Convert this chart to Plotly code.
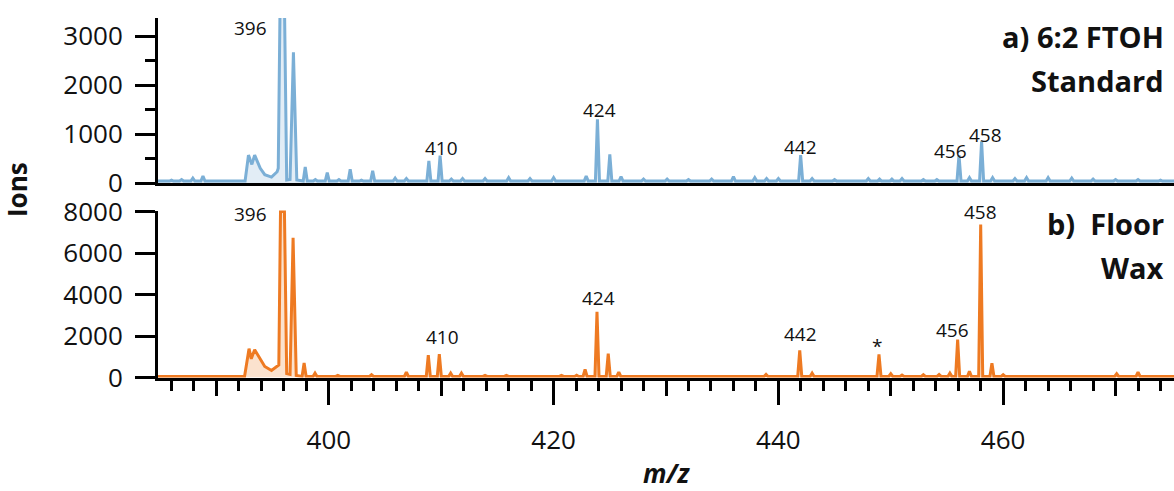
import plotly.graph_objects as go

# ---------------- data ----------------
MZ_RANGE = [384.8, 475.2]

# a) 6:2 FTOH Standard (blue)
std_baseline = 40
std_cluster_mz = [392.55, 392.85, 393.15, 393.4, 393.9, 394.3, 394.9, 395.4, 395.5,
                  395.75, 395.95, 396.25, 396.55, 396.85, 397.15]
std_cluster_ions = [40, 570, 380, 570, 300, 170, 120, 230, 300,
                    5500, 5500, 60, 70, 2670, 60]
std_peak_mz = [386.0, 386.9, 387.9, 388.8, 397.9, 398.8, 399.86, 400.9, 401.9, 402.9,
               403.9, 405.9, 406.9, 408.9, 409.9, 410.9, 411.9, 413.9, 416.0, 417.9,
               420.0, 422.9, 423.9, 425.0, 426.0, 428.0, 430.1, 432.0, 434.06, 436.0,
               437.9, 438.95, 440.0, 441.98, 443.0, 445.0, 448.0, 449.0, 450.1, 451.0,
               452.9, 454.1, 456.07, 457.0, 458.08, 459.06, 461.05, 462.08, 464.0, 466.1,
               468.0, 470.0, 472.0, 474.0]
std_peak_ions = [60, 70, 100, 140, 330, 70, 210, 70, 280, 60,
                 250, 100, 90, 450, 560, 80, 90, 90, 110, 90,
                 110, 140, 1300, 585, 130, 80, 80, 70, 80, 130,
                 110, 90, 90, 570, 90, 70, 90, 80, 80, 90,
                 70, 70, 570, 110, 850, 110, 90, 110, 110, 100,
                 80, 70, 70, 60]

# b) Floor Wax (orange)
wax_baseline = 50
wax_cluster_mz = [392.5, 392.9, 393.1, 393.4, 393.87, 394.3, 394.9, 395.4, 395.55,
                  395.7, 396.05, 396.25, 396.55, 396.82, 397.1]
wax_cluster_ions = [50, 1390, 900, 1340, 900, 530, 340, 530, 600,
                    8000, 8000, 190, 150, 6730, 100]
wax_peak_mz = [397.8, 398.77, 400.8, 403.8, 406.9, 408.85, 409.83, 410.84, 411.8, 413.9,
               415.8, 420.7, 422.05, 422.8, 423.86, 424.86, 425.8, 438.9, 441.9, 443.0,
               448.95, 450.0, 451.0, 452.9, 454.3, 455.26, 455.95, 457.0, 458.0, 459.0,
               460.0, 470.1, 472.0]
wax_peak_ions = [700, 210, 100, 130, 260, 1080, 1130, 210, 210, 100,
                 100, 100, 110, 390, 3170, 1150, 260, 150, 1310, 210,
                 1120, 180, 120, 130, 140, 210, 1830, 300, 7380, 690,
                 130, 180, 260]

# peak labels
std_label_text = ["396", "410", "424", "442", "456", "458"]
std_label_mz = [393.0, 410.0, 424.1, 442.0, 455.3, 458.4]
std_label_ions = [3160, 710, 1490, 735, 650, 980]
wax_label_text = ["396", "410", "424", "442", "*", "456", "458"]
wax_label_mz = [393.07, 410.07, 423.95, 442.0, 448.8, 455.5, 458.0]
wax_label_ions = [7860, 1940, 3830, 2090, 1500, 2280, 7960]

x_major_ticks = [400, 420, 440, 460]
x_mid_ticks = [390, 410, 430, 450, 470]


def profile(base, cl_mz, cl_ions, pk_mz, pk_ions, half=0.18):
    pts = [(MZ_RANGE[0], base), (MZ_RANGE[1], base)]
    pts += list(zip(cl_mz, cl_ions))
    for m, h in zip(pk_mz, pk_ions):
        pts += [(m - half, base), (m, h), (m + half, base)]
    pts.sort()
    return [p[0] for p in pts], [p[1] for p in pts]


BLUE = "#7BAFD6"
ORANGE = "#EE7A22"
FONT = "Open Sans"

sx, sy = profile(std_baseline, std_cluster_mz, std_cluster_ions, std_peak_mz, std_peak_ions)
wx, wy = profile(wax_baseline, wax_cluster_mz, wax_cluster_ions, wax_peak_mz, wax_peak_ions)

fig = go.Figure()
fig.add_trace(go.Scatter(x=sx, y=sy, mode="lines", line=dict(color=BLUE, width=3),
                         fill="tozeroy", fillcolor="rgba(123,175,214,0.22)",
                         xaxis="x", yaxis="y", showlegend=False))
fig.add_trace(go.Scatter(x=wx, y=wy, mode="lines", line=dict(color=ORANGE, width=3),
                         fill="tozeroy", fillcolor="rgba(238,122,34,0.22)",
                         xaxis="x2", yaxis="y2", showlegend=False))
fig.add_trace(go.Scatter(x=[None], y=[None], xaxis="x3", yaxis="y2",
                         showlegend=False, hoverinfo="skip"))

W, H = 1174, 491
L = 158
top_dom = [1 - 183 / H, 1 - 18 / H]
bot_dom = [1 - 377.5 / H, 1 - 210.5 / H]

tickfont = dict(family=FONT, size=26, color="#111")

fig.update_layout(
    width=W, height=H,
    margin=dict(l=L, r=0, t=0, b=0, autoexpand=False),
    paper_bgcolor="white", plot_bgcolor="white",
    font=dict(family=FONT, color="#111"),
    xaxis=dict(domain=[0, 1], anchor="y", range=MZ_RANGE, showline=True, linecolor="black",
               linewidth=3, ticks="", showticklabels=False, showgrid=False, zeroline=False,
               automargin=False),
    yaxis=dict(domain=top_dom, anchor="x", range=[0, 3370], tickvals=[0, 1000, 2000, 3000],
               ticks="outside", ticklen=20, tickwidth=3, tickcolor="black",
               minor=dict(tickvals=[500, 1500, 2500], ticks="outside", ticklen=10, tickwidth=3, tickcolor="black"),
               showline=True, linecolor="black", linewidth=3, showgrid=False, zeroline=False,
               tickfont=tickfont, ticklabelstandoff=7, automargin=False),
    xaxis2=dict(domain=[0, 1], anchor="y2", range=MZ_RANGE, showline=True, linecolor="black",
                linewidth=3, tickvals=x_major_ticks, ticks="outside", ticklen=24, tickwidth=3,
                tickcolor="black",
                minor=dict(dtick=2, tick0=0, ticks="outside", ticklen=10, tickwidth=3, tickcolor="black"),
                showgrid=False, zeroline=False, tickfont=tickfont, ticklabelstandoff=13,
                automargin=False),
    xaxis3=dict(overlaying="x2", anchor="y2", range=MZ_RANGE, tickvals=x_mid_ticks,
                ticks="outside", ticklen=17, tickwidth=3, tickcolor="black",
                showticklabels=False, showline=False, showgrid=False, zeroline=False,
                automargin=False),
    yaxis2=dict(domain=bot_dom, anchor="x2", range=[0, 8050], tickvals=[0, 2000, 4000, 6000, 8000],
                ticks="outside", ticklen=20, tickwidth=3, tickcolor="black",
                showline=True, linecolor="black", linewidth=3, showgrid=False, zeroline=False,
                tickfont=tickfont, ticklabelstandoff=7, automargin=False),
)

annotations = []
for t, m, v in zip(std_label_text, std_label_mz, std_label_ions):
    annotations.append(dict(x=m, y=v, xref="x", yref="y", text=t, showarrow=False,
                            xanchor="center", yanchor="middle",
                            font=dict(family=FONT, size=19, color="#111")))
for t, m, v in zip(wax_label_text, wax_label_mz, wax_label_ions):
    annotations.append(dict(x=m, y=v, xref="x2", yref="y2", text=t, showarrow=False,
                            xanchor="center", yanchor="middle",
                            font=dict(family=FONT, size=19, color="#111")))

title_font = dict(family=FONT, size=29, color="#111")
xr = (1166 - L) / (W - L)
for txt, py in [("<b>a) 6:2 FTOH</b>", 37), ("<b>Standard</b>", 80),
                ("<b>b)\u00a0 Floor</b>", 223), ("<b>Wax</b>", 267)]:
    annotations.append(dict(x=xr, y=1 - py / H, xref="paper", yref="paper", text=txt,
                            showarrow=False, xanchor="right", yanchor="middle", font=title_font))

annotations.append(dict(x=(17 - L) / (W - L), y=1 - 190 / H, xref="paper", yref="paper",
                        text="<b>Ions</b>", textangle=-90, showarrow=False,
                        xanchor="center", yanchor="middle",
                        font=dict(family=FONT, size=26, color="#111")))
annotations.append(dict(x=0.5, y=1 - 473 / H, xref="paper", yref="paper",
                        text="<b><i>m/z</i></b>", showarrow=False,
                        xanchor="center", yanchor="middle",
                        font=dict(family=FONT, size=26, color="#111")))
fig.update_layout(annotations=annotations)

fig.write_html("out.html")
